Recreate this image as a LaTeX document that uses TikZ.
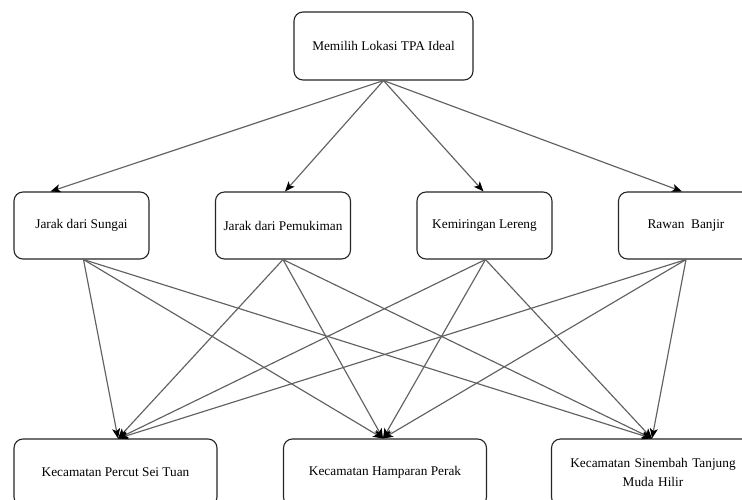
\documentclass[tikz,border=0pt]{standalone}
\usepackage{fontspec}
\setmainfont{Liberation Serif}
\usetikzlibrary{arrows.meta,calc}
\begin{document}
\begin{tikzpicture}[x=1pt,y=-1pt,
  box/.style={draw=black!85,line width=1.1pt,rounded corners=9pt,align=center,
    font=\fontsize{13.3}{18.5}\selectfont,inner sep=2pt},
  conn/.style={draw=black!62,line width=1.15pt,
    arrows={-{Stealth[length=10pt,width=8pt,inset=2.5pt,color=black]}}}
]
\clip (0,0) rectangle (742,500);
\fill[white] (0,0) rectangle (742,500);
\node[box,minimum width=179pt,minimum height=68pt] (top) at (383.5,46) {Memilih Lokasi TPA Ideal};
\node[box,minimum width=135pt,minimum height=67pt] (c1) at (81.5,225.5) {Jarak dari Sungai};
\node[box,minimum width=135pt,minimum height=67pt] (c2) at (283,225.5) {Jarak dari Pemukiman};
\node[box,minimum width=135pt,minimum height=67pt] (c3) at (484.5,225.5) {Kemiringan Lereng};
\node[box,minimum width=135pt,minimum height=67pt] (c4) at (686,225.5) {Rawan\ \ Banjir};
\node[box,minimum width=203pt,minimum height=67pt] (a1) at (115.5,472.5) {Kecamatan Percut Sei Tuan};
\node[box,minimum width=203pt,minimum height=67pt] (a2) at (385,472.5) {Kecamatan Hamparan Perak};
\node[box,minimum width=203pt,minimum height=67pt,text width=190pt] (a3) at (653,472.5) {Kecamatan Sinembah Tanjung\\Muda Hilir};
% top arrows
\draw[conn] (top.south) -- ($(c1.north)+(-31,0)$);
\draw[conn] (top.south) -- ($(c2.north)+(2,0)$);
\draw[conn] (top.south) -- ($(c3.north)+(-1,0)$);
\draw[conn] (top.south) -- ($(c4.north)+(-4,0)$);
% bottom arrows
\foreach \s/\d in {1/2,2/0,3/1,4/0}{
  \draw[conn] ($(c\s.south)+(\d,0)$) -- ($(a1.north)+(2.5,0)$);
  \draw[conn] ($(c\s.south)+(\d,0)$) -- ($(a2.north)+(-2,0)$);
  \draw[conn] ($(c\s.south)+(\d,0)$) -- ($(a3.north)+(-1,0)$);
}
\end{tikzpicture}
\end{document}
